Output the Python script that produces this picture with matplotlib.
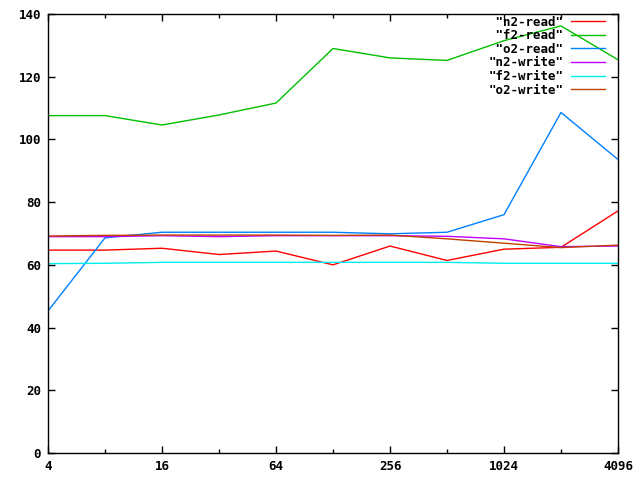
import matplotlib
matplotlib.use("Agg")
import matplotlib.pyplot as plt

# block sizes (x) and throughput of each run
sizes = [4, 8, 16, 32, 64, 128, 256, 512, 1024, 2048, 4096]
n2_read = [64.7, 64.7, 65.3, 63.3, 64.4, 60.0, 66.0, 61.4, 65.0, 65.6, 77.2]
f2_read = [107.6, 107.6, 104.6, 107.8, 111.6, 129.0, 126.0, 125.2, 131.5, 136.2, 125.4]
o2_read = [45.3, 68.6, 70.4, 70.4, 70.4, 70.4, 69.9, 70.4, 76.0, 108.6, 93.6]
n2_write = [69.0, 69.0, 69.3, 69.0, 69.3, 69.3, 69.3, 69.1, 68.3, 65.8, 66.0]
f2_write = [60.4, 60.5, 60.8, 60.8, 60.8, 60.8, 60.8, 60.8, 60.5, 60.5, 60.5]
o2_write = [69.2, 69.4, 69.5, 69.5, 69.5, 69.4, 69.5, 68.3, 66.9, 65.5, 66.3]

names = ['"n2-read"', '"f2-read"', '"o2-read"', '"n2-write"', '"f2-write"', '"o2-write"']
series = [n2_read, f2_read, o2_read, n2_write, f2_write, o2_write]
colors = ["#ff0000", "#00c000", "#0080ff", "#c000ff", "#00eeee", "#c04000"]

major_x = [4, 16, 64, 256, 1024, 4096]
minor_x = [8, 32, 128, 512, 2048]
yticks = list(range(0, 141, 20))

fig = plt.figure(figsize=(6.4, 4.8), dpi=100)
ax = fig.add_axes([48 / 640, 27 / 480, 570 / 640, 439 / 480])

for name, vals, col in zip(names, series, colors):
    # pad so the monospaced labels line up on the right like gnuplot
    ax.plot(sizes, vals, color=col, lw=1, label=name.rjust(10))

ax.set_xscale("log", base=2)
ax.set_xlim(4, 4096)
ax.set_ylim(0, 140)
ax.set_xticks(major_x)
ax.set_xticklabels([str(t) for t in major_x])
ax.set_xticks(minor_x, minor=True)
ax.set_xticklabels([""] * len(minor_x), minor=True)
ax.set_yticks(yticks)

font = {"family": "DejaVu Sans Mono", "weight": "bold", "size": 9}
for lab in ax.get_xticklabels() + ax.get_yticklabels():
    lab.set_fontfamily(font["family"])
    lab.set_fontweight(font["weight"])
    lab.set_fontsize(font["size"])

ax.tick_params(which="major", direction="in", length=5, width=1, top=True, right=True, pad=5)
ax.tick_params(which="minor", direction="in", length=3, width=1, top=True, right=True)
for sp in ax.spines.values():
    sp.set_linewidth(1)

leg = ax.legend(loc="upper right", frameon=False, markerfirst=False,
                prop=font, handlelength=2.7, labelspacing=0.05,
                handletextpad=0.6, borderaxespad=0.2,
                bbox_to_anchor=(1 - 6 / 570, 1 + 6 / 439))

fig.savefig("out.png", dpi=100)
